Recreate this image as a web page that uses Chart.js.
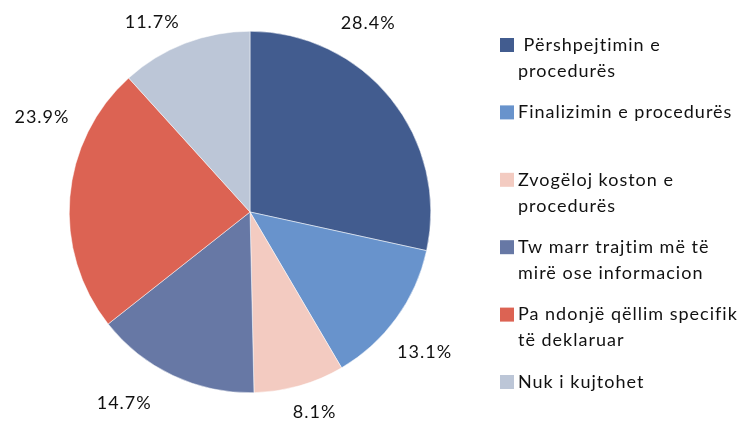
<!DOCTYPE html>
<html>
<head>
<meta charset="utf-8">
<script src="https://cdn.jsdelivr.net/npm/chart.js@4"></script>
<style>
  html, body { margin: 0; padding: 0; background: #ffffff; }
  #wrap { width: 743px; height: 424px; position: relative; }
</style>
</head>
<body>
<div id="wrap"><canvas id="chart" width="743" height="424"></canvas></div>
<script>
const ctx = document.getElementById("chart");

// data
const categories = [
  ["Përshpejtimin e", "procedurës"],
  ["Finalizimin e procedurës"],
  ["Zvogëloj koston e", "procedurës"],
  ["Tw marr trajtim më të", "mirë ose informacion"],
  ["Pa ndonjë qëllim specifik", "të deklaruar"],
  ["Nuk i kujtohet"]
];
const shares = [28.4, 13.1, 8.1, 14.7, 23.9, 11.7];
const colors = ["#425c8f", "#6893cc", "#f3cbc1", "#6778a5", "#dc6353", "#bcc6d7"];

const FONT = "Lato, 'Open Sans', sans-serif";

// nudges for the value labels (excel "best fit" placement)
const labelNudge = [[-46, -57], [4, 16], [7, -3], [-36, 1], [2, -77], [-22, 7]];

const outsideLabels = {
  id: "outsideLabels",
  afterDatasetsDraw(chart) {
    const c = chart.ctx;
    const meta = chart.getDatasetMeta(0);
    c.save();
    c.font = "18px " + FONT;
    c.letterSpacing = "1px";
    c.fillStyle = "#111111";
    c.textAlign = "center";
    c.textBaseline = "middle";
    meta.data.forEach((arc, i) => {
      const p = arc.getProps(["x", "y", "startAngle", "endAngle", "outerRadius"], true);
      const mid = (p.startAngle + p.endAngle) / 2;
      const r = p.outerRadius + 30;
      const x = p.x + Math.cos(mid) * r + labelNudge[i][0];
      const y = p.y + Math.sin(mid) * r + labelNudge[i][1];
      c.fillText(shares[i].toFixed(1) + "%", x, y);
    });
    c.restore();
  }
};

const sideLegend = {
  id: "sideLegend",
  afterDraw(chart) {
    const c = chart.ctx;
    c.save();
    c.font = "18px " + FONT;
    c.letterSpacing = "1px";
    c.textBaseline = "middle";
    c.textAlign = "left";
    const left = 500, top = 45, slot = 67.4, lineH = 26;
    categories.forEach((lines, i) => {
      const y0 = top + i * slot;
      c.fillStyle = colors[i];
      c.fillRect(left, y0 - 7, 14, 14);
      c.fillStyle = "#111111";
      lines.forEach((t, j) => {
        c.fillText((i === 0 && j === 0 ? " " : "") + t, left + 18, y0 + j * lineH);
      });
    });
    c.restore();
  }
};

new Chart(ctx, {
  type: "pie",
  data: {
    labels: categories.map(l => l.join(" ")),
    datasets: [{
      data: shares,
      backgroundColor: colors,
      borderColor: "#ffffff",
      borderWidth: 0.5
    }]
  },
  options: {
    responsive: false,
    animation: false,
    layout: { padding: { left: 69, right: 312, top: 31, bottom: 31 } },
    plugins: {
      legend: { display: false },
      tooltip: { enabled: false }
    }
  },
  plugins: [outsideLabels, sideLegend]
});
</script>
</body>
</html>
